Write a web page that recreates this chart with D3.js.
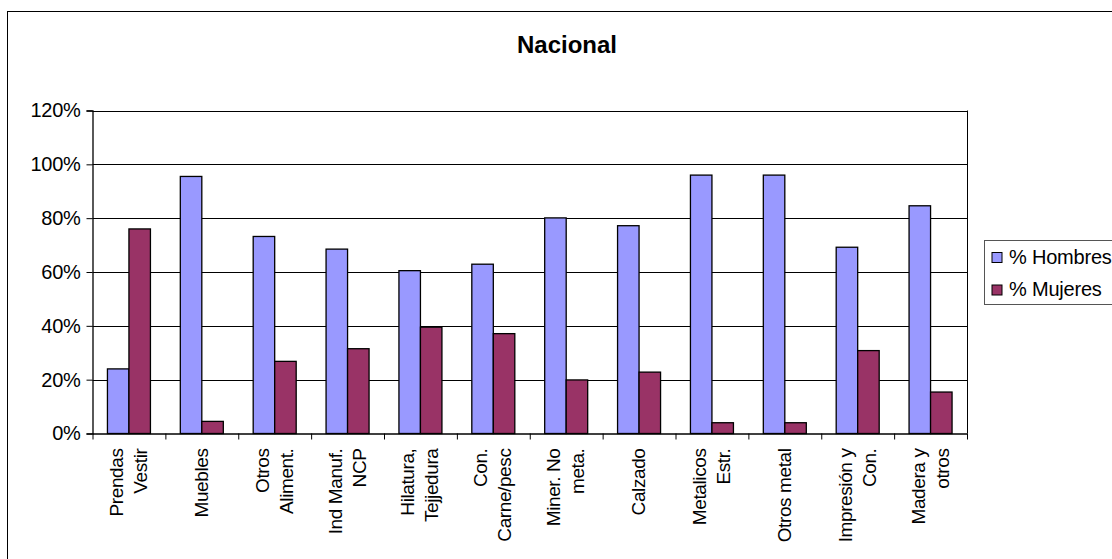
<!DOCTYPE html>
<html><head><meta charset="utf-8">
<script src="https://cdn.jsdelivr.net/npm/d3@7"></script>
<style>
body{margin:0;background:#fff;}
text{font-family:Arial,"Liberation Sans",sans-serif;fill:#000;}
</style></head>
<body>
<svg id="c" width="1112" height="559"></svg>
<script>
const categories = [
  ["Prendas","Vestir"],["Muebles"],["Otros","Aliment."],["Ind Manuf.","NCP"],
  ["Hilatura,","Tejjedura"],["Con.","Carne/pesc"],["Miner. No","meta."],["Calzado"],
  ["Metalicos","Estr."],["Otros metal"],["Impresión y","Con."],["Madera y","otros"]
];
const hombres = [24, 95.5, 73.2, 68.5, 60.5, 62.9, 80.1, 77.2, 96, 96, 69.2, 84.6];
const mujeres = [76, 4.5, 26.8, 31.5, 39.5, 37.1, 19.9, 22.8, 4, 4, 30.8, 15.4];
const seriesNames = ["% Hombres","% Mujeres"];
const seriesColors = ["#9999FF","#993366"];
const yTicks = [0,20,40,60,80,100,120];

const svg = d3.select("#c");
const L = 92.5, R = 967, T = 110.5, B = 433.5;

svg.append("rect").attr("x",7.5).attr("y",11.5).attr("width",1200).attr("height",700)
  .attr("fill","#fff").attr("stroke","#000").attr("stroke-width",1);

svg.append("text").attr("x",567).attr("y",53).attr("text-anchor","middle")
  .attr("font-size",24).attr("font-weight","bold").text("Nacional");

const keys = categories.map((c,i)=>i);
const x0 = d3.scaleBand().domain(keys).range([L,R]).paddingInner(0).paddingOuter(0);
const bw = x0.bandwidth();
const x1 = d3.scaleBand().domain([0,1]).range([bw*0.205, bw*0.795]);
const y = d3.scaleLinear().domain([0,120]).range([B,T]);

svg.append("g").selectAll("line").data(yTicks.slice(1)).join("line")
  .attr("x1",L).attr("x2",R).attr("y1",d=>Math.round(y(d))+0.5).attr("y2",d=>Math.round(y(d))+0.5)
  .attr("stroke","#000").attr("stroke-width",1);
svg.append("line").attr("x1",R+0.5).attr("x2",R+0.5).attr("y1",T).attr("y2",B).attr("stroke","#000");

const data = [hombres, mujeres];
data.forEach((vals,s)=>{
  svg.append("g").selectAll("rect").data(vals).join("rect")
    .attr("x",(d,i)=>x0(i)+x1(s))
    .attr("y",d=>y(d))
    .attr("width",x1.bandwidth())
    .attr("height",d=>B-y(d))
    .attr("fill",seriesColors[s]).attr("stroke","#000").attr("stroke-width",1.3);
});

const ya = d3.axisLeft(y).tickValues(yTicks).tickFormat(d=>d+"%").tickSize(6).tickPadding(6);
const gy = svg.append("g").attr("transform",`translate(${L},0)`).call(ya);
gy.select(".domain").attr("stroke","#000").attr("stroke-width",1.3);
gy.selectAll(".tick line").attr("stroke","#000");
gy.selectAll("text").attr("font-size",20).attr("letter-spacing",-0.3).attr("font-family","Arial, 'Liberation Sans', sans-serif");

const xe = d3.scaleLinear().domain([0,categories.length]).range([L,R]);
const xa = d3.axisBottom(xe).tickValues(d3.range(categories.length+1)).tickFormat("").tickSize(6).tickSizeOuter(0);
const gx = svg.append("g").attr("transform",`translate(0,${B})`).call(xa);
gx.select(".domain").attr("stroke","#000").attr("stroke-width",1.5);
gx.selectAll(".tick line").attr("stroke","#000");

const lg = svg.append("g");
categories.forEach((lines,i)=>{
  const cx = x0(i)+bw/2;
  const lh = 24;
  const n = lines.length;
  lines.forEach((t,j)=>{
    const off = (j-(n-1)/2)*lh;
    lg.append("text")
      .attr("transform",`translate(${cx+off+6},${B+15}) rotate(-90)`)
      .attr("text-anchor","end").attr("font-size",19).attr("letter-spacing",-0.4)
      .text(t);
  });
});

const leg = svg.append("g");
leg.append("rect").attr("x",984.5).attr("y",240.5).attr("width",200).attr("height",64)
  .attr("fill","#fff").attr("stroke","#555").attr("stroke-width",1);
seriesNames.forEach((n,i)=>{
  const yy = 252.5 + i*32.5;
  leg.append("rect").attr("x",992).attr("y",yy).attr("width",10).attr("height",10)
    .attr("fill",seriesColors[i]).attr("stroke","#000").attr("stroke-width",1);
  leg.append("text").attr("x",1009).attr("y",yy+11).attr("font-size",20).attr("letter-spacing",-0.2).text(n);
});
</script>
</body></html>
